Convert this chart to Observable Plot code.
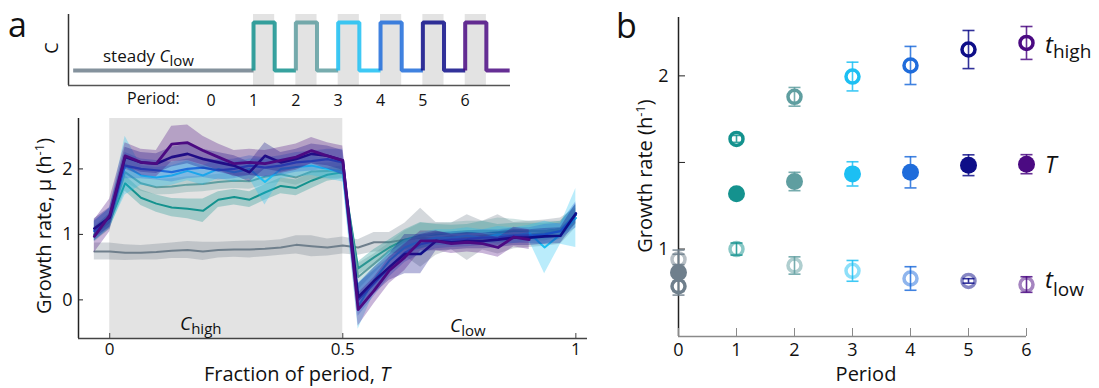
<!DOCTYPE html>
<html>
<head>
<meta charset="utf-8">
<script src="https://cdn.jsdelivr.net/npm/d3@7"></script>
<script src="https://cdn.jsdelivr.net/npm/@observablehq/plot@0.6"></script>
<style>
  html,body{margin:0;padding:0;background:#fff;}
  #wrap{position:relative;width:1099px;height:388px;overflow:hidden;font-family:"Open Sans",sans-serif;}
  #wrap svg{position:absolute;overflow:visible;}
</style>
</head>
<body>
<div id="wrap"></div>
<script>
// ---------------- data ----------------
const periods = [0, 1, 2, 3, 4, 5, 6];
const periodColors = ["#6f7f8c", "#14928e", "#5f9ea0", "#1cbff3", "#1f6cdb", "#0e0e88", "#4b0a82"];
const cLow = 0, cHigh = 1;          // concentration levels (schematic)
const highFraction = 0.5;           // C_high occupies first half of each period

// fraction of period (sample times)
const fraction = [-0.033,0,0.033,0.067,0.1,0.133,0.167,0.2,0.233,0.267,0.3,0.333,0.367,0.4,0.433,0.467,0.5,
  0.533,0.567,0.6,0.633,0.667,0.7,0.733,0.767,0.8,0.833,0.867,0.9,0.933,0.967,1];

// growth-rate means per period (0 = steady C_low)
const mu0 = [0.74,0.74,0.72,0.72,0.73,0.75,0.76,0.74,0.76,0.77,0.77,0.78,0.80,0.84,0.82,0.80,0.83,0.80,0.88,0.88,0.92,0.95,0.93,0.97,0.95,0.98,1.00,0.98,1.00,1.02,1.05,1.25];
const mu1 = [1.00,1.20,1.78,1.56,1.47,1.41,1.39,1.36,1.53,1.57,1.53,1.64,1.74,1.71,1.82,1.91,1.95,0.48,0.65,0.80,0.92,0.98,1.00,1.02,1.03,1.05,1.03,1.05,1.05,1.05,1.08,1.30];
const mu2 = [1.00,1.20,1.95,1.78,1.72,1.73,1.76,1.77,1.80,1.82,1.81,1.88,1.92,1.87,1.96,1.97,1.98,0.35,0.55,0.75,0.90,0.97,1.02,1.03,1.05,1.05,1.05,1.08,1.05,1.05,1.08,1.30];
const mu3 = [1.05,1.25,2.05,1.90,1.87,1.90,1.97,1.90,2.00,1.95,2.00,1.80,2.00,2.03,2.05,2.00,1.95,-0.10,0.30,0.60,0.80,0.90,0.95,0.95,0.98,0.95,1.00,0.98,1.02,0.80,1.00,1.25];
const mu4 = [1.05,1.25,2.05,2.00,1.98,1.95,2.00,2.02,1.98,2.00,2.05,2.02,2.05,2.10,2.12,2.15,2.10,0.00,0.25,0.50,0.72,0.85,0.90,0.92,0.93,0.95,0.95,0.98,0.98,1.00,1.05,1.30];
const mu5 = [1.09,1.26,2.18,2.10,2.08,2.18,2.23,2.15,2.10,2.05,1.95,2.20,2.10,2.15,2.23,2.20,2.13,0.04,0.29,0.50,0.70,0.70,0.90,0.88,0.90,0.90,0.92,0.95,0.95,0.97,0.98,1.32];
const mu6 = [0.97,1.29,2.20,2.10,2.08,2.38,2.40,2.28,2.18,2.08,2.10,2.08,2.13,2.18,2.28,2.20,2.13,-0.15,0.14,0.45,0.65,0.90,0.90,0.86,0.88,0.86,0.80,0.96,0.92,null,null,null];

// band half-widths
const sd0 = [0.13,0.13,0.12,0.11,0.12,0.12,0.13,0.14,0.12,0.12,0.13,0.12,0.12,0.14,0.16,0.13,0.13,0.12,0.15,0.15,0.25,0.45,0.25,0.20,0.35,0.22,0.30,0.20,0.20,0.20,0.20,0.15];
const sd1 = [0.10,0.12,0.12,0.12,0.13,0.14,0.15,0.18,0.12,0.12,0.12,0.12,0.12,0.12,0.12,0.10,0.10,0.10,0.12,0.12,0.15,0.20,0.15,0.12,0.12,0.15,0.12,0.12,0.12,0.12,0.12,0.15];
const sd2 = [0.12,0.12,0.15,0.12,0.12,0.12,0.12,0.12,0.12,0.12,0.12,0.12,0.12,0.12,0.12,0.12,0.12,0.20,0.15,0.12,0.15,0.20,0.15,0.15,0.15,0.15,0.20,0.15,0.15,0.15,0.12,0.15];
const sd3 = [0.15,0.15,0.45,0.15,0.15,0.15,0.15,0.15,0.15,0.15,0.15,0.35,0.15,0.15,0.15,0.15,0.15,0.35,0.20,0.15,0.12,0.12,0.12,0.12,0.12,0.12,0.12,0.12,0.12,0.40,0.15,0.45];
const sd4 = [0.15,0.15,0.20,0.15,0.15,0.15,0.15,0.15,0.15,0.15,0.15,0.15,0.15,0.15,0.15,0.15,0.20,0.25,0.20,0.15,0.15,0.15,0.12,0.12,0.12,0.12,0.12,0.12,0.12,0.15,0.12,0.20];
const sd5 = [0.15,0.15,0.15,0.15,0.15,0.15,0.15,0.15,0.15,0.15,0.15,0.20,0.15,0.15,0.15,0.15,0.15,0.20,0.20,0.20,0.30,0.30,0.15,0.12,0.12,0.12,0.12,0.12,0.12,0.12,0.12,0.15];
const sd6 = [0.25,0.25,0.20,0.20,0.20,0.27,0.27,0.22,0.20,0.20,0.20,0.20,0.20,0.20,0.20,0.20,0.22,0.25,0.20,0.20,0.20,0.15,0.15,0.15,0.15,0.15,0.15,0.15,0.15,null,null,null];

// panel b: mean growth rates per period
const tHigh    = [0.785, 1.636, 1.879, 1.996, 2.060, 2.152, 2.190];
const tHighErr = [0.030, 0.020, 0.054, 0.083, 0.110, 0.110, 0.095];
const tAvg     = [0.864, 1.319, 1.390, 1.434, 1.443, 1.484, 1.490];
const tAvgErr  = [0.130, 0.020, 0.053, 0.070, 0.090, 0.060, 0.055];
const tLow     = [0.940, 1.000, 0.905, 0.874, 0.830, 0.816, 0.795];
const tLowErr  = [0.030, 0.035, 0.050, 0.060, 0.068, 0.013, 0.045];

// tick values
const aXTicks = [0, 0.5, 1];
const aYTicks = [0, 1, 2];
const bYTicks = [1, 1.5, 2];

// ---------------- layout ----------------
const FONT = '"Open Sans", sans-serif';
const wrap = document.getElementById("wrap");
function put(svg, left, top) { svg.style.left = left + "px"; svg.style.top = top + "px"; wrap.appendChild(svg); }
const plain = d => String(d);

// ---- panel a, top: concentration schematic ----
const topX = [-3.37, 7.07], topY = [-0.3125, 1.167];
const steadyStart = -3.26, lastEnd = 7.05;
const stepRows = [];
for (const k of periods) {
  if (k === 0) { stepRows.push({k, x: steadyStart, c: cLow}, {k, x: 1, c: cLow}); continue; }
  const end = k === periods[periods.length - 1] ? lastEnd : k + 1;
  stepRows.push({k, x: k, c: cLow}, {k, x: k, c: cHigh}, {k, x: k + highFraction, c: cHigh},
                {k, x: k + highFraction, c: cLow}, {k, x: end, c: cLow});
}
const topPlot = Plot.plot({
  width: 530, height: 110, marginLeft: 68, marginRight: 20, marginTop: 14, marginBottom: 25,
  x: {domain: topX}, y: {domain: topY, axis: null},
  style: {fontFamily: FONT, background: "transparent", overflow: "visible", color: "#111"},
  marks: [
    Plot.rect(periods.slice(1), {x1: d => d, x2: d => d + highFraction, y1: topY[0], y2: topY[1], fill: "#e3e3e3"}),
    ...periods.map(k => Plot.line(stepRows.filter(r => r.k === k),
      {x: "x", y: "c", stroke: periodColors[k], strokeWidth: 4, strokeOpacity: 0.85, strokeLinejoin: "miter", strokeLinecap: "butt"})),
    Plot.ruleX([topX[0]], {stroke: "#333", strokeWidth: 1.5}),
    Plot.ruleY([topY[0]], {stroke: "#555", strokeWidth: 1.5}),
    Plot.axisX(periods, {tickSize: 0, tickPadding: 9, fontSize: 16, label: null, fill: "#111", tickFormat: plain})
  ]
});
put(topPlot, 0, 0);

// ---- panel a, bottom: growth rate vs fraction of period ----
const muSeries = [mu0, mu1, mu2, mu3, mu4, mu5, mu6];
const sdSeries = [sd0, sd1, sd2, sd3, sd4, sd5, sd6];
const lineWidths = [2, 2, 2, 2, 2.2, 2.6, 2.8];
const aX = [-0.067, 1.025], aY = [-0.59, 2.77];
const seriesRows = k => fraction.map((f, i) => {
  const m = muSeries[k][i], s = sdSeries[k][i];
  return {f, m, lo: m == null ? null : m - s, hi: m == null ? null : m + s};
});
const aMarks = [
  Plot.rect([[0, highFraction]], {x1: d => d[0], x2: d => d[1], y1: aY[0], y2: aY[1], fill: "#e3e3e3"})
];
for (const k of periods) {
  const rows = seriesRows(k);
  aMarks.push(Plot.areaY(rows, {x: "f", y1: "lo", y2: "hi", fill: periodColors[k], fillOpacity: 0.3}));
  aMarks.push(Plot.line(rows, {x: "f", y: "m", stroke: periodColors[k], strokeWidth: lineWidths[k]}));
}
aMarks.push(
  Plot.ruleX([aX[0]], {stroke: "#222", strokeWidth: 1.5}),
  Plot.ruleY([aY[0]], {stroke: "#444", strokeWidth: 1.5}),
  Plot.axisX(aXTicks, {tickSize: -5, tickPadding: 9, fontSize: 17, label: null, stroke: "#444", fill: "#111", tickFormat: plain}),
  Plot.axisY(aYTicks, {tickSize: -5, tickPadding: 11, fontSize: 18, label: null, stroke: "#222", fill: "#111", tickFormat: plain})
);
const aPlot = Plot.plot({
  width: 600, height: 288, marginLeft: 78, marginRight: 13, marginTop: 18, marginBottom: 50,
  x: {domain: aX}, y: {domain: aY},
  style: {fontFamily: FONT, background: "transparent", overflow: "visible", color: "#111"},
  marks: aMarks
});
put(aPlot, 0, 100);

// ---- panel b ----
const bY = [0.495, 2.337];
const bRows = (vals, errs) => periods.map((p, i) => ({p, v: vals[i], e: errs[i], color: periodColors[p]}));
const highRows = bRows(tHigh, tHighErr), avgRows = bRows(tAvg, tAvgErr), lowRows = bRows(tLow, tLowErr);
const capSymbol = {draw(ctx) { ctx.moveTo(-6, 0); ctx.lineTo(6, 0); }};
const errMarks = rows => [
  Plot.ruleX(rows, {x: "p", y1: d => d.v - d.e, y2: d => d.v + d.e, stroke: "color", strokeWidth: 1.6, strokeOpacity: 0.85}),
  Plot.dot(rows, {x: "p", y: d => d.v - d.e, symbol: capSymbol, fill: "none", stroke: "color", strokeWidth: 1.6, strokeOpacity: 0.85}),
  Plot.dot(rows, {x: "p", y: d => d.v + d.e, symbol: capSymbol, fill: "none", stroke: "color", strokeWidth: 1.6, strokeOpacity: 0.85})
];
const bPlot = Plot.plot({
  width: 499, height: 388, marginLeft: 78, marginRight: 73, marginTop: 17, marginBottom: 52,
  x: {domain: [0, 6]}, y: {domain: bY}, color: {type: "identity"},
  style: {fontFamily: FONT, background: "transparent", overflow: "visible", color: "#111"},
  marks: [
    Plot.ruleY([bY[0]], {stroke: "#8a8a8a", strokeWidth: 1.5}),
    Plot.ruleX([0], {stroke: "#222", strokeWidth: 1.5}),
    Plot.axisX(periods, {tickSize: -8, tickPadding: 15, fontSize: 18, label: null, stroke: "#8a8a8a", fill: "#111", tickFormat: plain}),
    Plot.axisY(bYTicks, {tickSize: -7, tickPadding: 17, fontSize: 18, label: null, stroke: "#222", fill: "#111",
      tickFormat: d => (d % 1 ? "" : String(d))}),
    Plot.dot(highRows, {x: "p", y: "v", r: 6.5, stroke: "color", strokeWidth: 3.5, fill: "none"}),
    Plot.dot(lowRows, {x: "p", y: "v", r: 6.5, stroke: "color", strokeOpacity: 0.5, strokeWidth: 3.5, fill: "none"}),
    ...errMarks(highRows), ...errMarks(lowRows), ...errMarks(avgRows),
    Plot.dot(avgRows, {x: "p", y: "v", r: 8.5, fill: "color", stroke: "none"})
  ]
});
put(bPlot, 600, 0);

// ---- text overlay ----
const ov = d3.select(wrap).append("svg").attr("width", 1099).attr("height", 388)
  .style("left", "0px").style("top", "0px").style("pointer-events", "none")
  .attr("font-family", FONT).attr("fill", "#111");
function label(x, y, parts, {size = 16, anchor = "start", rotate = 0} = {}) {
  const t = ov.append("text").attr("font-size", size).attr("text-anchor", anchor);
  if (rotate) t.attr("transform", `translate(${x},${y}) rotate(${rotate})`);
  else t.attr("x", x).attr("y", y);
  for (const p of parts) {
    if (typeof p === "string") { t.append("tspan").text(p); continue; }
    const s = t.append("tspan").text(p.t);
    if (p.i) s.attr("font-style", "italic");
    if (p.size) s.attr("font-size", p.size);
    if (p.dy) s.attr("dy", p.dy);
  }
}
label(8, 37, ["a"], {size: 34});
label(616, 38, ["b"], {size: 34});
label(58, 48, ["C"], {size: 18, anchor: "middle", rotate: -90});
label(103, 62, ["steady ", {t: "C", i: 1}, {t: "low", size: 15, dy: 4}], {size: 17});
label(127, 104, ["Period:"], {size: 16});
label(180, 330, [{t: "C", i: 1}, {t: "high", size: 15, dy: 4}], {size: 19});
label(450, 332, [{t: "C", i: 1}, {t: "low", size: 15, dy: 4}], {size: 19});
label(297, 381, ["Fraction of period, ", {t: "T", i: 1}], {size: 20, anchor: "middle"});
label(51, 226, ["Growth rate, μ (h", {t: "-1", size: 13, dy: -7}, {t: ")", size: 20, dy: 7}], {size: 20, anchor: "middle", rotate: -90});
label(652, 176, ["Growth rate (h", {t: "-1", size: 13, dy: -7}, {t: ")", size: 20, dy: 7}], {size: 20, anchor: "middle", rotate: -90});
label(866, 381, ["Period"], {size: 20, anchor: "middle"});
label(1045, 53, [{t: "t", i: 1}, {t: "high", size: 19, dy: 5}], {size: 24});
label(1045, 173, [{t: "T", i: 1}], {size: 23});
label(1045, 288, [{t: "t", i: 1}, {t: "low", size: 19, dy: 8}], {size: 24});
</script>
</body>
</html>
